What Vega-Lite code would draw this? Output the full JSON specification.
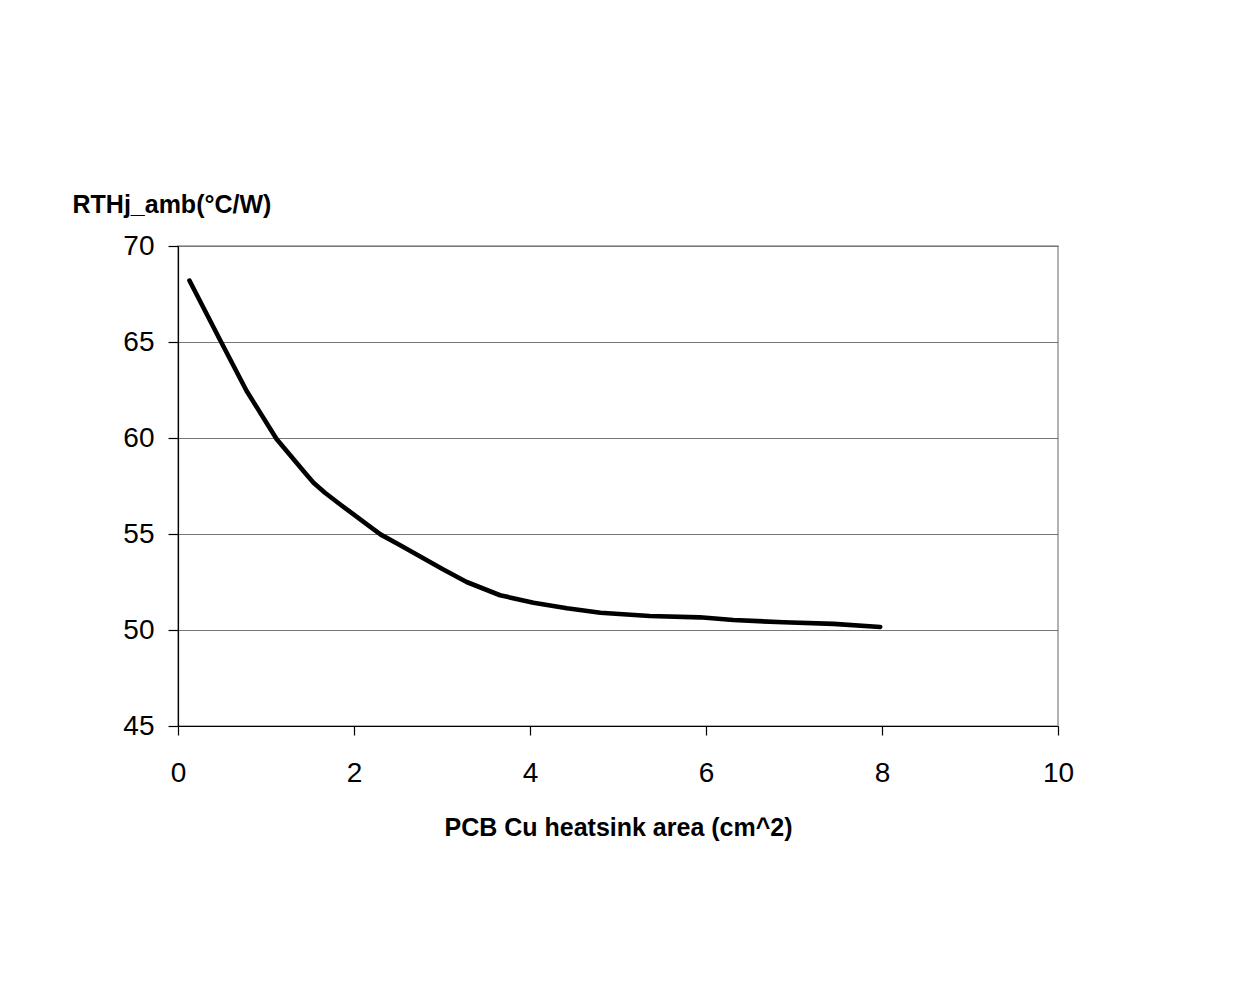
{
  "$schema": "https://vega.github.io/schema/vega-lite/v6.json",
  "width": 880,
  "height": 480,
  "autosize": {"type": "none"},
  "padding": {"left": 178, "top": 246, "right": 175, "bottom": 279},
  "background": "white",
  "data": {
    "values": [
      {"area": 0.13, "rth": 68.2},
      {"area": 0.49, "rth": 65.0},
      {"area": 0.78, "rth": 62.45},
      {"area": 1.12, "rth": 59.95},
      {"area": 1.44, "rth": 58.2},
      {"area": 1.54, "rth": 57.67},
      {"area": 1.67, "rth": 57.15},
      {"area": 1.84, "rth": 56.55},
      {"area": 2.3, "rth": 54.98},
      {"area": 2.52, "rth": 54.43},
      {"area": 3.01, "rth": 53.16},
      {"area": 3.28, "rth": 52.5},
      {"area": 3.66, "rth": 51.81},
      {"area": 4.04, "rth": 51.42},
      {"area": 4.42, "rth": 51.13},
      {"area": 4.8, "rth": 50.9},
      {"area": 5.36, "rth": 50.73},
      {"area": 5.93, "rth": 50.66},
      {"area": 6.31, "rth": 50.52},
      {"area": 6.88, "rth": 50.4},
      {"area": 7.45, "rth": 50.32},
      {"area": 7.98, "rth": 50.16}
    ]
  },
  "mark": {"type": "line", "color": "black", "strokeWidth": 4.6, "strokeCap": "round", "strokeJoin": "round"},
  "encoding": {
    "x": {
      "field": "area",
      "type": "quantitative",
      "scale": {"domain": [0, 10], "nice": false, "zero": false},
      "axis": {
        "values": [0, 2, 4, 6, 8, 10],
        "grid": false,
        "tickSize": 9,
        "tickColor": "black",
        "domainColor": "black",
        "domainWidth": 1.2,
        "tickWidth": 1.2,
        "labelFontSize": 28,
        "labelColor": "black",
        "labelBaseline": "alphabetic",
        "labelPadding": 46,
        "labelFlush": false,
        "labelOverlap": false,
        "title": "PCB Cu heatsink area (cm^2)",
        "titleFontSize": 25,
        "titleFontWeight": "bold",
        "titleColor": "black",
        "titleBaseline": "alphabetic",
        "titleY": 109
      }
    },
    "y": {
      "field": "rth",
      "type": "quantitative",
      "scale": {"domain": [45, 70], "nice": false, "zero": false},
      "axis": {
        "values": [45, 50, 55, 60, 65, 70],
        "grid": true,
        "gridColor": "#777777",
        "gridWidth": 1.2,
        "tickSize": 10,
        "tickColor": "black",
        "tickWidth": 1.2,
        "domainColor": "black",
        "domainWidth": 1.2,
        "labelFontSize": 28,
        "labelColor": "black",
        "labelPadding": 14,
        "labelFlush": false,
        "labelOverlap": false,
        "title": "RTHj_amb(°C/W)",
        "titleAngle": 0,
        "titleX": -106,
        "titleY": -34,
        "titleAlign": "left",
        "titleBaseline": "alphabetic",
        "titleFontSize": 25,
        "titleFontWeight": "bold",
        "titleColor": "black"
      }
    }
  },
  "config": {
    "font": "Liberation Sans",
    "view": {"stroke": "#999999", "strokeWidth": 1.5}
  }
}
